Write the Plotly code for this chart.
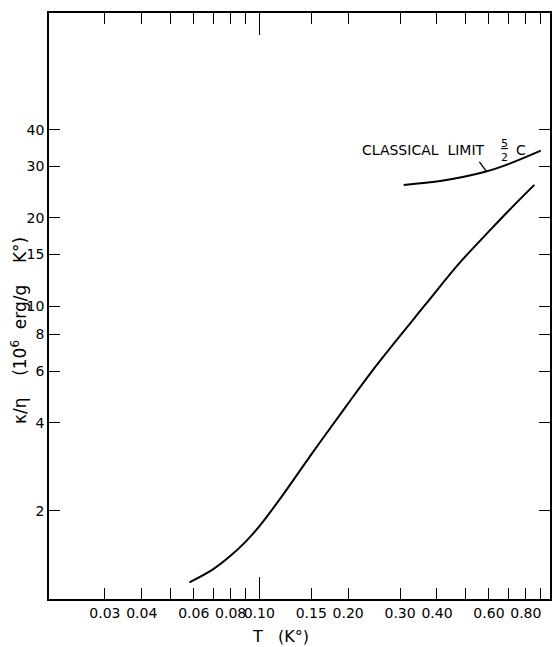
import numpy as np
import plotly.graph_objects as go

# ---- data ----
T_main = [0.058, 0.0695, 0.079, 0.090, 0.100, 0.1166, 0.151, 0.196, 0.2506,
          0.3652, 0.4732, 0.6132, 0.6983, 0.8546]
K_main = [1.14, 1.26, 1.39, 1.57, 1.77, 2.17, 3.14, 4.52, 6.31,
          10.1, 13.9, 18.4, 21.1, 25.9]

T_classical = [0.3085, 0.4156, 0.5826, 0.6983, 0.8989]
K_classical = [25.9, 26.75, 28.7, 30.5, 33.9]

x_tickvals = [0.03, 0.04, 0.05, 0.06, 0.07, 0.08, 0.09, 0.10, 0.15, 0.20, 0.30,
              0.40, 0.50, 0.60, 0.70, 0.80, 0.90]
x_ticktext = ["0.03", "0.04", "", "0.06", "", "0.08", "", "0.10", "0.15", "0.20", "0.30",
              "0.40", "", "0.60", "", "0.80", ""]
y_tickvals = [2, 4, 6, 8, 10, 15, 20, 30, 40]
y_ticktext = ["2", "4", "6", "8", "10", "15", "20", "30", "40"]

x_range = [np.log10(0.0194), np.log10(0.966)]
y_range = [0, 2]

FONT = "DejaVu Sans"
SP = "\u00a0"

fig = go.Figure()
fig.add_trace(go.Scatter(x=T_main, y=K_main, mode="lines",
                         line=dict(color="black", width=2, shape="spline", smoothing=1.0),
                         showlegend=False, hoverinfo="skip"))
fig.add_trace(go.Scatter(x=T_classical, y=K_classical, mode="lines",
                         line=dict(color="black", width=2, shape="spline", smoothing=1.0),
                         showlegend=False, hoverinfo="skip"))
# invisible trace on second x axis so that the long 0.10 tick is drawn
fig.add_trace(go.Scatter(x=[0.1], y=[10], xaxis="x2", mode="markers",
                         marker=dict(opacity=0), showlegend=False, hoverinfo="skip"))

fig.update_layout(
    width=555, height=647,
    margin=dict(l=49, r=3, t=13, b=48),
    paper_bgcolor="white", plot_bgcolor="white",
    font=dict(family=FONT, color="black", size=13),
    xaxis=dict(type="log", range=x_range, tickvals=x_tickvals, ticktext=x_ticktext,
               tickangle=0, ticks="inside", ticklen=11, tickwidth=1.3, tickcolor="black",
               showline=True, linecolor="black", linewidth=1.5, mirror="ticks",
               showgrid=False, zeroline=False, tickfont=dict(size=14, family=FONT)),
    xaxis2=dict(type="log", range=x_range, overlaying="x", side="bottom",
                tickvals=[0.1], ticktext=[""], ticks="inside", ticklen=22,
                tickwidth=1.3, tickcolor="black", showline=False, mirror="ticks",
                showgrid=False, zeroline=False),
    yaxis=dict(type="log", range=y_range, tickvals=y_tickvals, ticktext=y_ticktext,
               ticks="inside", ticklen=11, tickwidth=1.3, tickcolor="black",
               showline=True, linecolor="black", linewidth=1.5, mirror="ticks",
               showgrid=False, zeroline=False, tickfont=dict(size=14, family=FONT)),
)

annotations = [
    dict(text="T" + SP * 3 + "(K°)", xref="paper", yref="paper", x=0.463, y=-0.0648,
         xanchor="center", yanchor="middle", showarrow=False, font=dict(size=16)),
    dict(text="κ/η" + SP * 4 + "(10<sup>6</sup>" + SP * 2 + "erg/g" + SP * 4 + "K°)",
         xref="paper", yref="paper",
         x=-0.060, y=0.459, textangle=-90, xanchor="center", yanchor="middle",
         showarrow=False, font=dict(size=17)),
    dict(text="CLASSICAL" + SP * 2 + "LIMIT", xref="paper", yref="paper", x=0.6203, y=0.766,
         xanchor="left", yanchor="middle", showarrow=False, font=dict(size=14)),
    dict(text="<u>5</u><br>2", xref="paper", yref="paper", x=0.9095, y=0.766,
         xanchor="center", yanchor="middle", showarrow=False, font=dict(size=11)),
    dict(text="C", xref="paper", yref="paper", x=0.928, y=0.766,
         xanchor="left", yanchor="middle", showarrow=False, font=dict(size=14)),
    dict(text="", x=np.log10(0.588), y=np.log10(28.8), xref="x", yref="y",
         showarrow=True, arrowhead=0, arrowwidth=1.3, arrowcolor="black",
         ax=-8, ay=-11, standoff=0),
]
fig.update_layout(annotations=annotations)

fig.write_html("out.html", config={"displayModeBar": False},
               post_script="document.body.style.margin='0';")
